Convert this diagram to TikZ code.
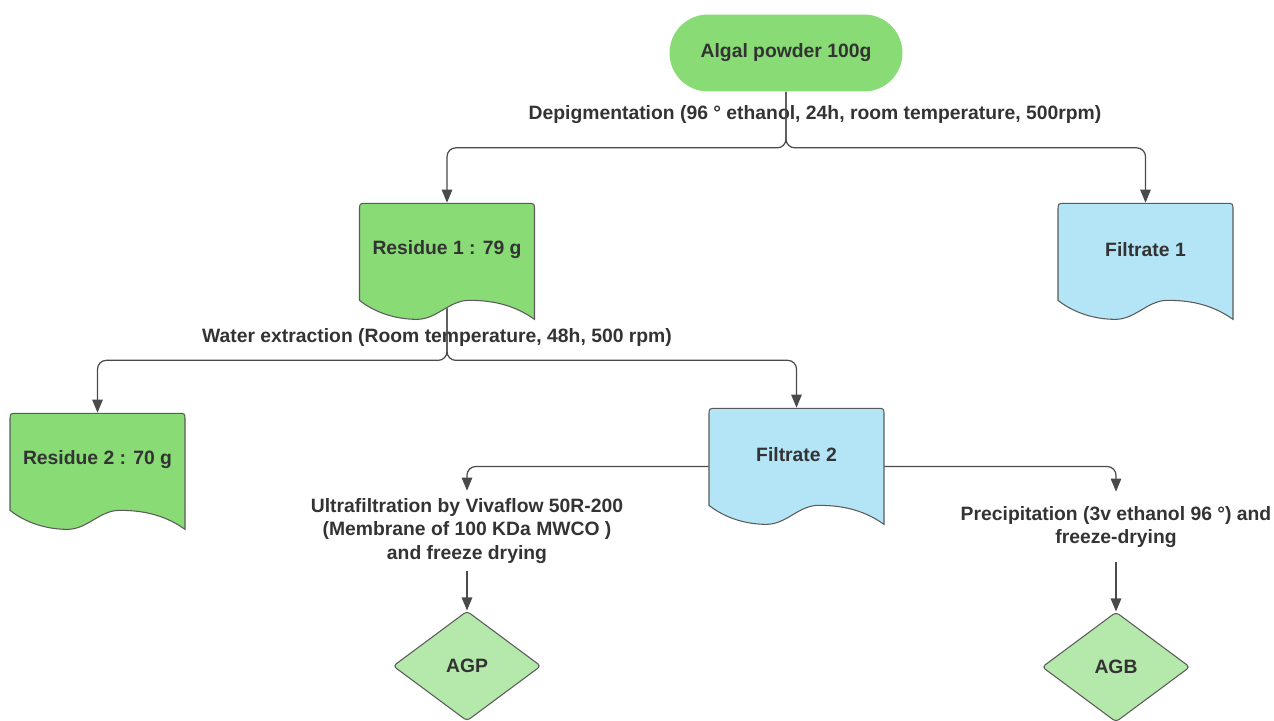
\documentclass[tikz,border=0pt]{standalone}
\usepackage{fontspec}
\setmainfont{Liberation Sans}
\usetikzlibrary{shapes.geometric, arrows.meta, positioning, calc, backgrounds}
\definecolor{colorVerde}{HTML}{88DB75}
\definecolor{colorVerdeClaro}{HTML}{B5E8AB}
\definecolor{colorAzul}{HTML}{B3E5F7}
\definecolor{colorBorde}{HTML}{5A5A5A}
\definecolor{colorLinea}{HTML}{4A4A4A}
\definecolor{colorTexto}{HTML}{333333}

% contorno de documento (borde ondulado abajo) bajo un nodo
\newcommand{\fondoDoc}[2]{%
  \begin{scope}[shift={(#1.south)}]
    \filldraw[fill=#2, draw=colorBorde, line width=0.6pt]
      (-87.5,2) -- (-87.5,-88) .. controls (-87.5,-95) .. (-80.5,-95)
      -- (80.5,-95) .. controls (87.5,-95) .. (87.5,-88) -- (87.5,21)
      .. controls (65,5) and (42,2) .. (22,2)
      .. controls (2,2) and (-10,21) .. (-30,21)
      .. controls (-55,21) and (-75,12) .. (-87.5,2) -- cycle;
    \coordinate (#1-base) at (0,10);
  \end{scope}}

\begin{document}
\begin{tikzpicture}[
        x=0.02cm, y=-0.02cm,
        every node/.style={font=\bfseries\fontsize{11}{13.6}\selectfont, text=colorTexto},
        inicio/.style={fill=colorVerde, rounded corners=0.77cm,
            minimum width=4.66cm, minimum height=1.54cm},
        doc/.style={minimum width=3.5cm, minimum height=1.94cm, inner sep=0pt},
        rombo/.style={diamond, draw=colorBorde, fill=colorVerdeClaro, line width=0.6pt,
            rounded corners=2pt, minimum width=2.96cm, minimum height=2.2cm, inner sep=0pt},
        etiqueta/.style={align=center, inner xsep=2pt, inner ysep=4pt},
        rel/.style={-{Triangle[length=2.6mm, width=2.1mm]}, colorLinea, line width=0.7pt,
            rounded corners=5pt}
    ]
        \useasboundingbox (0,0) rectangle (1274,720);

        \node[inicio] (polvo) at (786,53) {Algal powder 100g};
        \node[etiqueta] (depig) at (815,115) {Depigmentation (96 ° ethanol, 24h, room temperature, 500rpm)};
        \node[doc] (res1) at (447,249.5) {Residue 1 : 79 g};
        \node[doc] (fil1) at (1145.5,249.5) {Filtrate 1};
        \node[etiqueta] (agua) at (437,337) {Water extraction (Room temperature, 48h, 500 rpm)};
        \node[doc] (res2) at (97.5,459.5) {Residue 2 : 70 g};
        \node[doc] (fil2) at (796.5,454.5) {Filtrate 2};
        \node[etiqueta] (ultra) at (467,531) {Ultrafiltration by Vivaflow 50R-200\\(Membrane of 100 KDa MWCO )\\and freeze drying};
        \node[etiqueta, inner ysep=8pt] (precip) at (1116,527) {Precipitation (3v ethanol 96 °) and\\freeze-drying};
        \node[rombo] (agp) at (467,666) {AGP};
        \node[rombo] (agb) at (1116,667) {AGB};

        \begin{scope}[on background layer]
            \fondoDoc{res1}{colorVerde}
            \fondoDoc{fil1}{colorAzul}
            \fondoDoc{res2}{colorVerde}
            \fondoDoc{fil2}{colorAzul}
        \end{scope}

        \draw[rel] (polvo.south) -- ++(0,56) -| ([yshift=-0.04cm]res1.north);
        \draw[rel] (polvo.south) -- ++(0,56) -| ([yshift=-0.04cm]fil1.north);
        \draw[rel] (res1-base) -- ++(0,52) -| ([yshift=-0.04cm]res2.north);
        \draw[rel] (res1-base) -- ++(0,52) -| ([yshift=-0.04cm]fil2.north);
        \draw[rel] ([yshift=-0.24cm]fil2.west) -| (ultra.north);
        \draw[rel] ([yshift=-0.24cm]fil2.east) -| (precip.north);
        \draw[rel] (ultra.south) -- (agp.north);
        \draw[rel] (precip.south) -- (agb.north);
    \end{tikzpicture}
\end{document}
